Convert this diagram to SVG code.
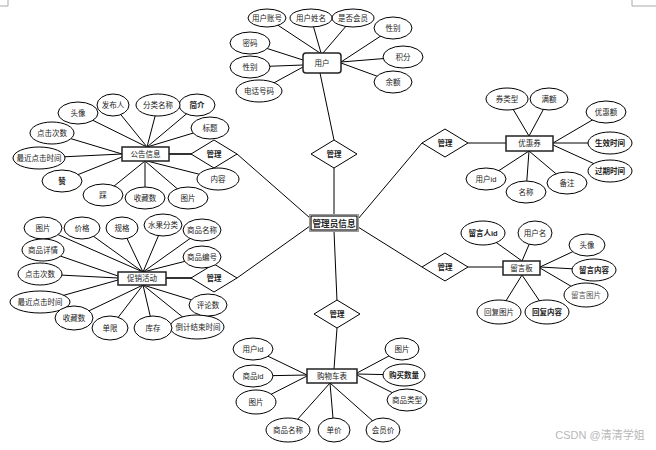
<svg xmlns="http://www.w3.org/2000/svg" width="656" height="450" viewBox="0 0 656 450">
<style>
  .bg{fill:#fff}
  .ln{stroke:#000;stroke-width:1;fill:none}
  .thk{stroke:#333;stroke-width:2.2;fill:none}
  .el{fill:#fff;stroke:#000;stroke-width:1}
  .bx{fill:#fff;stroke:#222;stroke-width:1.5}
  .dm{fill:#fff;stroke:#000;stroke-width:1}
  text{font-family:"Liberation Sans","Noto Sans CJK SC",sans-serif;font-size:7.5px;fill:#222;text-anchor:middle;dominant-baseline:central}
  .b{font-weight:bold}
  .mark{stroke:#aaa;stroke-width:1;fill:none}
</style>
<rect class="bg" x="0" y="0" width="656" height="450"/>
<path class="mark" d="M8 0 V6 H0 M632 0 V6 H656"/>
<g id="connectors">
  <path class="ln" d="M320 53L267 18M321 53L311 18M323 53L353 18M341 62L393 28M341 62L403 57M341 63L393 82M303 60L250 43M303 65L250 67M303 67L259 91"/>
  <path class="ln" d="M320 73L334 140M334 168L334 215"/>
  <path class="ln" d="M358 219L422 143M358 227L422 267M334 231L337 301M310 218L237 154M310 226L237 278"/>
  <path class="ln" d="M468 143L506 143"/>
  <path class="ln" d="M529 136L507 99M529 136L549 99M553 143L606 112M553 143L610 143M553 145L610 171M529 151L486 179M529 151L526 192M529 151L567 183"/>
  <path class="ln" d="M468 267L503 267"/>
  <path class="ln" d="M522 261L483 233M522 261L534 233M540 267L587 245M540 267L594 270M540 268L586 295M522 275L499 312M522 275L547 312"/>
  <path class="ln" d="M337 328L334 369"/>
  <path class="ln" d="M307 375L253 349M307 375L253 376M307 376L256 402M330 383L288 430M330 383L334 430M330 383L383 430M357 373L402 349M357 374L404 375M357 375L407 400"/>
  <path class="thk" d="M169 154L192 154M166 278L192 278"/>
  <path class="ln" d="M147 147L78 113M147 147L113 105M147 147L158 105M147 147L197 105M147 147L210 128M122 154L52 133M122 154L39 158M122 157L62 181M145 161L103 195M145 161L145 198M145 161L188 198M147 161L218 179"/>
  <path class="ln" d="M143 272L43 228M143 272L82 228M143 272L122 228M143 272L163 225M143 272L202 230M143 272L202 257M118 276L43 250M118 278L40 274M118 280L40 302M143 285L74 318M143 285L110 328M143 285L153 328M143 285L195 327M143 285L208 305"/>
</g>
<g id="admin">
  <rect x="309.5" y="214.5" width="49" height="17" fill="#fff" stroke="#999" stroke-width="1"/>
  <rect x="311" y="216" width="46" height="14" fill="#fff" stroke="#111" stroke-width="1.2"/>
  <text x="334" y="223.5" class="b" style="font-size:8.6px">管理员信息</text>
</g>
<g id="rel-user">
  <polygon class="dm" points="334,140 357,154 334,168 311,154"/>
  <text x="334" y="154" class="b">管理</text>
</g>
<g id="rel-coupon">
  <polygon class="dm" points="445,129 468,143 445,157 422,143"/>
  <text x="445" y="143" class="b">管理</text>
</g>
<g id="rel-board">
  <polygon class="dm" points="445,253 468,267 445,281 422,267"/>
  <text x="445" y="267" class="b">管理</text>
</g>
<g id="rel-cart">
  <polygon class="dm" points="337,300 360,314 337,328 314,314"/>
  <text x="337" y="314" class="b">管理</text>
</g>
<g id="rel-notice">
  <polygon class="dm" points="214,140 237,154 214,168 191,154"/>
  <text x="214" y="154" class="b">管理</text>
</g>
<g id="rel-promo">
  <polygon class="dm" points="214,264 237,278 214,292 191,278"/>
  <text x="214" y="278" class="b">管理</text>
</g>
<g id="user">
  <rect x="303" y="53" width="38" height="20" rx="3" class="bx"/>
  <text x="322" y="63">用户</text>
  <ellipse class="el" cx="267" cy="18" rx="19" ry="9"/><text x="267" y="18">用户账号</text>
  <ellipse class="el" cx="353" cy="18" rx="21" ry="9"/><text x="353" y="18">是否会员</text>
  <ellipse class="el" cx="311" cy="18" rx="21" ry="9"/><text x="311" y="18">用户姓名</text>
  <ellipse class="el" cx="393" cy="28" rx="19" ry="11"/><text x="393" y="28">性别</text>
  <ellipse class="el" cx="403" cy="57" rx="20" ry="11"/><text x="403" y="57">积分</text>
  <ellipse class="el" cx="393" cy="82" rx="19" ry="11"/><text x="393" y="82">余额</text>
  <ellipse class="el" cx="250" cy="43" rx="20" ry="11"/><text x="250" y="43">密码</text>
  <ellipse class="el" cx="250" cy="67" rx="20" ry="11"/><text x="250" y="67">性别</text>
  <ellipse class="el" cx="259" cy="91" rx="23" ry="11"/><text x="259" y="91">电话号码</text>
</g>
<g id="coupon">
  <rect x="506" y="136" width="47" height="15" class="bx"/>
  <text x="529.5" y="143.5">优惠券</text>
  <ellipse class="el" cx="507" cy="99" rx="21" ry="11"/><text x="507" y="99">券类型</text>
  <ellipse class="el" cx="549" cy="99" rx="19" ry="11"/><text x="549" y="99">满额</text>
  <ellipse class="el" cx="606" cy="112" rx="20" ry="11"/><text x="606" y="112">优惠额</text>
  <ellipse class="el" cx="610" cy="143" rx="22" ry="11"/><text x="610" y="143" class="b">生效时间</text>
  <ellipse class="el" cx="610" cy="171" rx="22" ry="11"/><text x="610" y="171" class="b">过期时间</text>
  <ellipse class="el" cx="486" cy="179" rx="20" ry="11"/><text x="486" y="179">用户id</text>
  <ellipse class="el" cx="567" cy="183" rx="20" ry="11"/><text x="567" y="183">备注</text>
  <ellipse class="el" cx="526" cy="192" rx="20" ry="11"/><text x="526" y="192">名称</text>
</g>
<g id="board">
  <rect x="503" y="261" width="37" height="14" class="bx"/>
  <text x="521.5" y="268">留言板</text>
  <ellipse class="el" cx="483" cy="233" rx="22" ry="12"/><text x="483" y="233" class="b">留言人id</text>
  <ellipse class="el" cx="535" cy="233" rx="17" ry="12"/><text x="535" y="233">用户名</text>
  <ellipse class="el" cx="587" cy="245" rx="18" ry="11"/><text x="587" y="245">头像</text>
  <ellipse class="el" cx="594" cy="270" rx="22" ry="11"/><text x="594" y="270" class="b">留言内容</text>
  <ellipse class="el" cx="586" cy="295" rx="22" ry="12"/><text x="586" y="295" style="fill:#555">留言图片</text>
  <ellipse class="el" cx="499" cy="312" rx="22" ry="12"/><text x="499" y="312">回复图片</text>
  <ellipse class="el" cx="547" cy="312" rx="22" ry="12"/><text x="547" y="312" class="b">回复内容</text>
</g>
<g id="cart">
  <rect x="307" y="369" width="50" height="14" class="bx"/>
  <text x="332" y="376">购物车表</text>
  <ellipse class="el" cx="253" cy="349" rx="20" ry="11"/><text x="253" y="349">用户id</text>
  <ellipse class="el" cx="253" cy="376" rx="20" ry="11"/><text x="253" y="376">商品id</text>
  <ellipse class="el" cx="256" cy="402" rx="20" ry="12"/><text x="256" y="402">图片</text>
  <ellipse class="el" cx="288" cy="430" rx="22" ry="12"/><text x="288" y="430">商品名称</text>
  <ellipse class="el" cx="334" cy="430" rx="16" ry="12"/><text x="334" y="430">单价</text>
  <ellipse class="el" cx="383" cy="430" rx="17" ry="12"/><text x="383" y="430">会员价</text>
  <ellipse class="el" cx="402" cy="349" rx="17" ry="11"/><text x="402" y="349">图片</text>
  <ellipse class="el" cx="404" cy="375" rx="21" ry="11"/><text x="404" y="375" class="b">购买数量</text>
  <ellipse class="el" cx="407" cy="400" rx="20" ry="11"/><text x="407" y="400">商品类型</text>
</g>
<g id="notice">
  <rect x="122" y="147" width="47" height="14" class="bx"/>
  <text x="145.5" y="154">公告信息</text>
  <ellipse class="el" cx="78" cy="113" rx="20" ry="11"/><text x="78" y="113">头像</text>
  <ellipse class="el" cx="113" cy="105" rx="16" ry="11"/><text x="113" y="105">发布人</text>
  <ellipse class="el" cx="197" cy="105" rx="18" ry="11"/><text x="197" y="105" class="b">简介</text>
  <ellipse class="el" cx="158" cy="105" rx="22" ry="11"/><text x="158" y="105">分类名称</text>
  <ellipse class="el" cx="210" cy="128" rx="19" ry="11"/><text x="210" y="128">标题</text>
  <ellipse class="el" cx="52" cy="133" rx="22" ry="11"/><text x="52" y="133">点击次数</text>
  <ellipse class="el" cx="39" cy="158" rx="26" ry="11"/><text x="39" y="158">最近点击时间</text>
  <ellipse class="el" cx="62" cy="181" rx="20" ry="11"/><text x="62" y="181" class="b">赞</text>
  <ellipse class="el" cx="103" cy="195" rx="20" ry="11"/><text x="103" y="195">踩</text>
  <ellipse class="el" cx="145" cy="198" rx="20" ry="11"/><text x="145" y="198">收藏数</text>
  <ellipse class="el" cx="188" cy="198" rx="20" ry="11"/><text x="188" y="198">图片</text>
  <ellipse class="el" cx="218" cy="179" rx="21" ry="11"/><text x="218" y="179">内容</text>
</g>
<g id="promo">
  <rect x="118" y="272" width="48" height="13" class="bx"/>
  <text x="142" y="278.5">促销活动</text>
  <ellipse class="el" cx="43" cy="228" rx="19" ry="11"/><text x="43" y="228">图片</text>
  <ellipse class="el" cx="82" cy="228" rx="18" ry="11"/><text x="82" y="228">价格</text>
  <ellipse class="el" cx="122" cy="228" rx="16" ry="11"/><text x="122" y="228">规格</text>
  <ellipse class="el" cx="163" cy="225" rx="19" ry="11"/><text x="163" y="225">水果分类</text>
  <ellipse class="el" cx="202" cy="230" rx="19" ry="11"/><text x="202" y="230">商品名称</text>
  <ellipse class="el" cx="202" cy="257" rx="19" ry="11"/><text x="202" y="257">商品编号</text>
  <ellipse class="el" cx="43" cy="250" rx="21" ry="11"/><text x="43" y="250">商品详情</text>
  <ellipse class="el" cx="40" cy="274" rx="22" ry="11"/><text x="40" y="274">点击次数</text>
  <ellipse class="el" cx="40" cy="302" rx="30" ry="11"/><text x="40" y="302">最近点击时间</text>
  <ellipse class="el" cx="74" cy="318" rx="19" ry="12"/><text x="74" y="318">收藏数</text>
  <ellipse class="el" cx="110" cy="328" rx="18" ry="12"/><text x="110" y="328">单限</text>
  <ellipse class="el" cx="197" cy="327" rx="27" ry="12"/><text x="198" y="327">倒计结束时间</text>
  <ellipse class="el" cx="153" cy="328" rx="19" ry="12"/><text x="153" y="328">库存</text>
  <ellipse class="el" cx="208" cy="305" rx="19" ry="11"/><text x="208" y="305">评论数</text>
</g>
<text x="600" y="435" style="font-size:11px;fill:#b8b8b8">CSDN @清清学姐</text>
</svg>
